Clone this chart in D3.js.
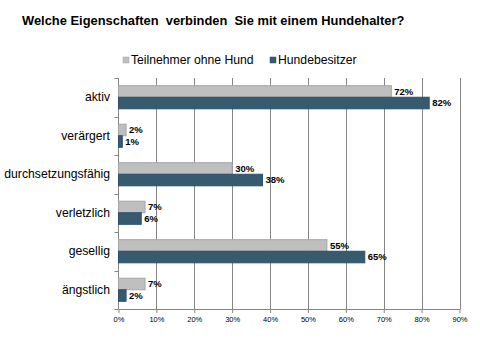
<!DOCTYPE html>
<html><head><meta charset="utf-8">
<script src="https://cdn.jsdelivr.net/npm/d3@7"></script>
<style>body{margin:0;background:#fff}svg{font-family:"Liberation Sans",Arial,sans-serif}</style>
</head><body><svg id="c" width="480" height="360"></svg>
<script>
const categories = ["aktiv","verärgert","durchsetzungsfähig","verletzlich","gesellig","ängstlich"];
const seriesNames = ["Teilnehmer ohne Hund","Hundebesitzer"];
const ohneHund = [72,2,30,7,55,7];
const besitzer = [82,1,38,6,65,2];
const xTicks = [0,10,20,30,40,50,60,70,80,90];

const svg = d3.select("#c");
const L=118.5, R=459.5, T=78, B=309;
const x = d3.scaleLinear().domain([0,90]).range([L,R]);
const y = d3.scaleBand().domain(categories).range([T,B]).paddingInner(0.4).paddingOuter(0.2);
const inner = d3.scaleBand().domain(seriesNames).range([0,y.bandwidth()]);
const fills = ["#bfbfbf","#375b6e"], strokes=["#a5a5a5","#2d4d72"];

svg.append("text").attr("x",22).attr("y",25).attr("font-weight","bold").attr("font-size",12.9)
  .style("white-space","pre").attr("xml:space","preserve").text("Welche Eigenschaften  verbinden  Sie mit einem Hundehalter?");

// gridlines
svg.append("g").selectAll("line").data(xTicks.slice(1)).join("line")
  .attr("x1",d=>Math.round(x(d))+0.5).attr("x2",d=>Math.round(x(d))+0.5).attr("y1",T).attr("y2",B)
  .attr("stroke","#868686").attr("stroke-width",1);

// bottom axis
const xa = svg.append("g").attr("transform",`translate(0,${B})`)
  .call(d3.axisBottom(x).tickValues(xTicks).tickFormat(d=>d+"%").tickSize(4).tickSizeOuter(0));
xa.select(".domain").attr("stroke","#868686");
xa.selectAll(".tick line").attr("stroke","#868686");
xa.selectAll(".tick text").attr("font-size",7.5).attr("fill","#000").attr("font-family","Liberation Sans, Arial").attr("dy","0.85em");

// left axis
const ya = svg.append("g").attr("transform",`translate(${L},0)`)
  .call(d3.axisLeft(y).tickSize(0).tickPadding(8.5));
ya.select(".domain").attr("stroke","#868686").attr("d",`M0,${T}V${B}`);
ya.selectAll(".tick text").attr("font-size",12.2).attr("fill","#000").attr("font-family","Liberation Sans, Arial");
// category boundary ticks
const bounds = d3.range(categories.length+1).map(i=>T+i*(B-T)/categories.length);
svg.append("g").selectAll("line").data(bounds).join("line")
  .attr("x1",L-4).attr("x2",L).attr("y1",d=>Math.round(d)+0.5).attr("y2",d=>Math.round(d)+0.5).attr("stroke","#868686");

const series=[ohneHund,besitzer];
series.forEach((vals,si)=>{
  const g = svg.append("g");
  g.selectAll("rect").data(vals).join("rect")
    .attr("x",x(0)).attr("y",(d,i)=>y(categories[i])+inner(seriesNames[si]))
    .attr("width",d=>x(d)-x(0)).attr("height",inner.bandwidth())
    .attr("fill",fills[si]).attr("stroke",strokes[si]).attr("stroke-width",1);
  g.selectAll("text").data(vals).join("text")
    .attr("x",d=>x(d)+3).attr("y",(d,i)=>y(categories[i])+inner(seriesNames[si])+inner.bandwidth()/2)
    .attr("dy","0.35em").attr("font-size",9.5).attr("font-weight","bold").attr("fill","#000")
    .text(d=>d+"%");
});

// legend
const lg = svg.append("g");
const lx=[123,270];
seriesNames.forEach((n,i)=>{
  lg.append("rect").attr("x",lx[i]).attr("y",57).attr("width",6).attr("height",6).attr("fill",fills[i]).attr("stroke",strokes[i]).attr("stroke-width",0.5);
  lg.append("text").attr("x",lx[i]+8).attr("y",60).attr("dy","0.35em").attr("font-size",12.2).attr("fill","#000").text(n);
});
</script></body></html>
